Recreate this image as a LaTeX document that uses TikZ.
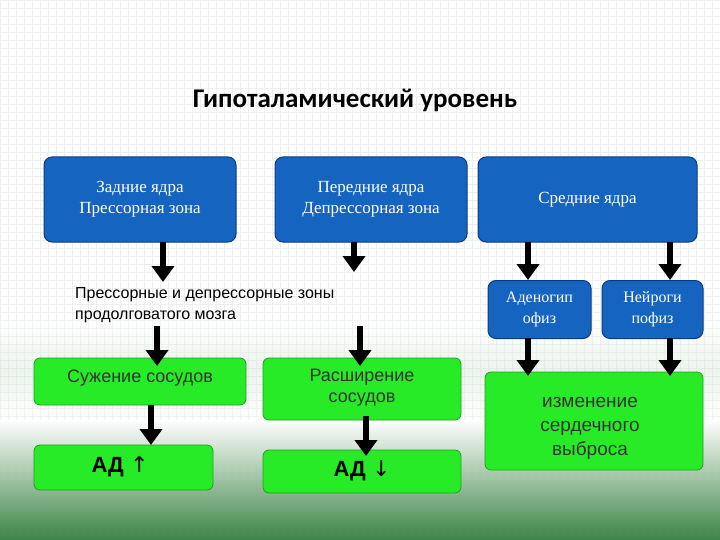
\documentclass[tikz,border=0pt]{standalone}
\usepackage{fontspec}
\setmainfont{Liberation Serif}
\setsansfont{Liberation Sans}
\newfontfamily\titlefont{Carlito}
\newfontfamily\symfont{DejaVu Sans}
\definecolor{bluebox}{RGB}{21,101,192}
\definecolor{blueedge}{RGB}{10,60,130}
\definecolor{greenbox}{RGB}{40,235,40}
\definecolor{greenedge}{RGB}{30,160,30}
\definecolor{bgdark}{RGB}{40,120,50}
\definecolor{gridc}{RGB}{236,239,236}
\usetikzlibrary{arrows.meta}
\tikzset{
 bbox/.style={draw=blueedge,line width=1pt,fill=bluebox,rounded corners=8pt,text=white,font=\fontsize{17}{21}\selectfont,align=center,inner sep=0pt},
 gbox/.style={draw=greenedge,line width=0.8pt,fill=greenbox,rounded corners=6pt,inner sep=0pt},
 gtext/.style={font=\sffamily\fontsize{18}{21}\selectfont,align=center,text=black!80},
 arr/.style={line width=6pt,-{Triangle[width=22pt,length=16pt]}},
}
\begin{document}
\begin{tikzpicture}[x=1pt,y=-1pt]
\useasboundingbox (0,0) rectangle (720,540);
\fill[white] (0,0) rectangle (720,540);
\draw[gridc,step=8pt] (0,0) grid (720,540);
\shade[top color=white,bottom color=bgdark,opacity=0.9] (0,420) rectangle (720,540);
\shade[top color=white,bottom color=white,middle color=white!80!bgdark,opacity=0.4] (0,320) rectangle (720,421);
\node (title) at (355,100) {\titlefont\bfseries\fontsize{27}{30}\selectfont Гипоталамический уровень};
% blue
\node[bbox,minimum width=192pt,minimum height=85pt] (b1) at (140,199.5) {Задние ядра\\Прессорная зона};
\node[bbox,minimum width=192pt,minimum height=85pt] (b2) at (371,199.5) {Передние ядра\\Депрессорная зона};
\node[bbox,minimum width=219pt,minimum height=85pt] (b3) at (587.5,199.5) {Средние ядра};
\node[bbox,minimum width=103pt,minimum height=58pt,anchor=north,font=\fontsize{16}{21}\selectfont] (ba) at (539.5,280) {Аденогип\\офиз};
\node[bbox,minimum width=101pt,minimum height=58pt,anchor=north,font=\fontsize{16}{21}\selectfont] (bn) at (652.5,280) {Нейроги\\пофиз};
\node[anchor=north west,font=\sffamily\fontsize{16}{21}\selectfont,align=left,inner sep=0pt] (mid) at (75,287) {Прессорные и депрессорные зоны\\продолговатого мозга};
% green
\node[gbox,minimum width=212pt,minimum height=47pt] (g1) at (140,381.5) {};
\node[gtext,anchor=north] at (140,366) {Сужение сосудов};
\node[gbox,minimum width=198pt,minimum height=62pt] (g2) at (362,389) {};
\node[gtext,anchor=north] at (362,366) {Расширение\\сосудов};
\node[gbox,minimum width=179pt,minimum height=45pt] (g3) at (123.5,467.5) {};
\node[font=\sffamily\bfseries\fontsize{22}{26}\selectfont] at (120,467) {АД {\symfont\mdseries↑}};
\node[gbox,minimum width=198pt,minimum height=43pt] (g4) at (362,471.5) {};
\node[font=\sffamily\bfseries\fontsize{22}{26}\selectfont] at (362,471) {АД {\symfont\mdseries↓}};
\node[gbox,minimum width=218pt,minimum height=98pt] (g5) at (594,421) {};
\node[gtext,font=\sffamily\fontsize{19}{24}\selectfont] at (590,428) {изменение\\сердечного\\выброса};
% arrows
\draw[arr] (163,242) -- (163,282);
\draw[arr] (354,242) -- (354,272);
\draw[arr] (157,326) -- (157,366);
\draw[arr] (360,326) -- (360,366);
\draw[arr] (151,405) -- (151,445);
\draw[arr] (366,416) -- (366,456);
\draw[arr] (528,242) -- (528,280);
\draw[arr] (670,242) -- (670,280);
\draw[arr] (528,338) -- (528,376);
\draw[arr] (670,338) -- (670,376);
\end{tikzpicture}
\end{document}
